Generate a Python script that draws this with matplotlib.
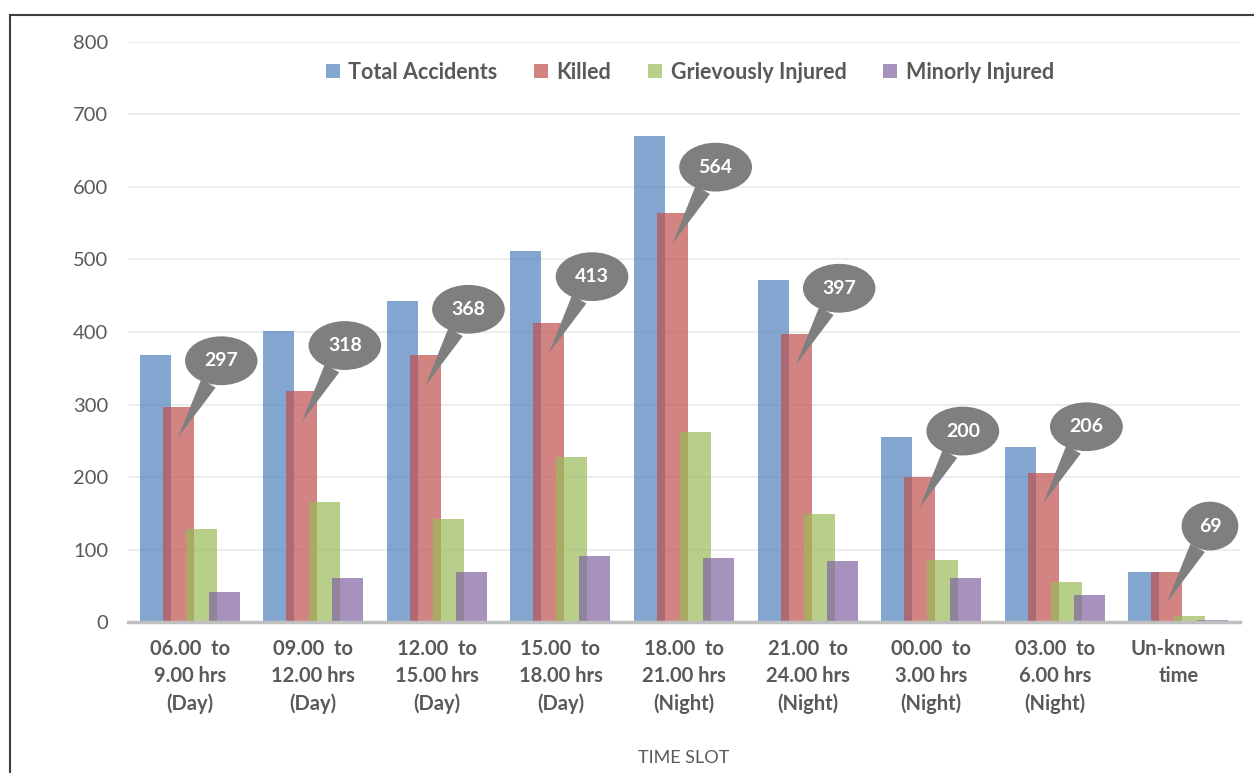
import numpy as np
import matplotlib
matplotlib.use("Agg")
from matplotlib import pyplot as plt
from matplotlib.lines import Line2D

plt.rcParams['font.family'] = ['Lato', 'DejaVu Sans']

slots = ['06.00  to\n9.00 hrs\n(Day)', '09.00  to\n12.00 hrs\n(Day)', '12.00  to\n15.00 hrs\n(Day)',
         '15.00  to\n18.00 hrs\n(Day)', '18.00  to\n21.00 hrs\n(Night)', '21.00  to\n24.00 hrs\n(Night)',
         '00.00  to\n3.00 hrs\n(Night)', '03.00  to\n6.00 hrs\n(Night)', 'Un-known\ntime']
total = [368, 401, 443, 512, 670, 472, 255, 241, 69]
killed = [297, 318, 368, 413, 564, 397, 200, 206, 69]
grievous = [128, 166, 142, 228, 262, 149, 85, 55, 8]
minor = [42, 61, 69, 91, 88, 84, 61, 37, 3]
series_names = ['Total Accidents', 'Killed', 'Grievously Injured', 'Minorly Injured']
colors = ['#4F81BD', '#C0504D', '#9BBB59', '#8064A2']

fig = plt.figure(figsize=(12.54, 7.73), dpi=100)
ax = fig.add_axes([0.102, 0.1953, 0.887, 0.7504])

x = np.arange(len(slots))
step = 0.186
width = 0.251
all_series = [total, killed, grievous, minor]
for i, (vals, name, c) in enumerate(zip(all_series, series_names, colors)):
    ax.bar(x + (i - 1.5) * step, vals, width, color=c, alpha=0.7, label=name, linewidth=0)

# callouts on killed
for xi, v in zip(x, killed):
    ax.annotate(str(v), xy=(xi - 0.5 * step, v - 42), xytext=(31, 55), textcoords='offset points',
                ha='center', va='center', fontsize=14, fontweight='bold', color='white',
                bbox=dict(boxstyle='ellipse,pad=0.45', fc='#7F7F7F', ec='none'),
                arrowprops=dict(arrowstyle='wedge,tail_width=0.85,shrink_factor=0.5', fc='#7F7F7F',
                                ec='none', shrinkA=0, shrinkB=0))

ax.set_xlim(-0.5, len(slots) - 0.5)
ax.set_ylim(0, 800)
ax.set_yticks(range(0, 801, 100))
ax.yaxis.grid(True, color='#EDEDED', linewidth=1.5)
ax.set_axisbelow(True)
for s in ['top', 'right', 'left']:
    ax.spines[s].set_visible(False)
ax.spines['bottom'].set_color('#BFBFBF')
ax.spines['bottom'].set_linewidth(2.5)
ax.tick_params(axis='both', length=0, colors='#595959', labelsize=14.5)
ax.tick_params(axis='y', pad=14)
ax.tick_params(axis='x', pad=12)
ax.set_xticks(x)
ax.set_xticklabels(slots, fontweight='bold', linespacing=1.45)
ax.set_xlabel('TIME SLOT', color='#595959', fontsize=13, labelpad=26)

leg = ax.legend(loc='center', bbox_to_anchor=(0.505, 0.948), ncol=4, frameon=False,
                handlelength=0.65, handleheight=0.65, handletextpad=0.4, columnspacing=1.7,
                prop={'weight': 'bold', 'size': 15.5})
for t in leg.get_texts():
    t.set_color('#595959')

# outer chart frame
fig.add_artist(Line2D([0.008, 1.0], [0.9806, 0.9806], color='#404040', linewidth=1.5))
fig.add_artist(Line2D([0.008, 0.008], [0.0, 0.9806], color='#404040', linewidth=1.5))

fig.savefig('out.png', dpi=100)
